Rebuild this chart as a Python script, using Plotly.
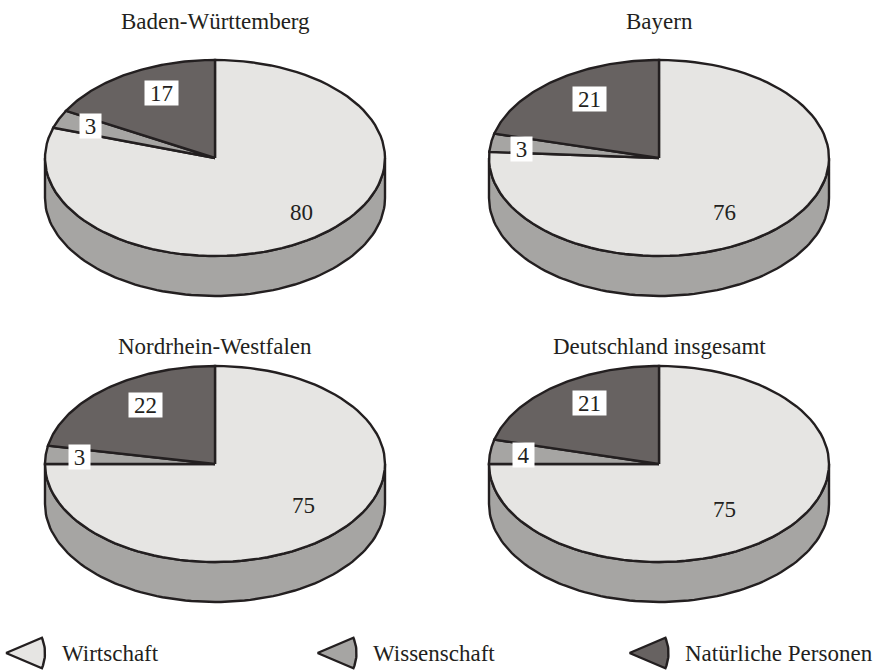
import math
import plotly.graph_objects as go

regions = ["Baden-Württemberg", "Bayern", "Nordrhein-Westfalen", "Deutschland insgesamt"]
categories = ["Wirtschaft", "Wissenschaft", "Natürliche Personen"]
wirtschaft = [80, 76, 75, 75]
wissenschaft = [3, 3, 3, 4]
natuerliche = [17, 21, 22, 21]

COLORS = {"Wirtschaft": "#e6e5e3", "Wissenschaft": "#a6a5a3", "Natürliche Personen": "#676261"}
INK = "#231f20"
FONT = "Liberation Serif"
FS = 23

# pie geometry in the page's pixel-like axis units
CENTERS = [(215, 158), (659, 158), (215, 464), (659, 464)]
RX, RY, DEPTH = 170, 98, 40
TITLE_Y = [21, 21, 346, 346]
# label offsets from pie centre: (major, minor, nat)
LABEL_OFF = [
    ((86, 54), (-124.5, -32), (-54, -65)),
    ((65, 54), (-137.5, -9), (-70, -59)),
    ((88, 41), (-135.5, -7), (-70, -59)),
    ((65, 45), (-136, -9), (-70, -61)),
]
LEGEND = [(6, 60), (317.5, 371), (629.5, 683)]
LEGEND_Y = 653
LEGEND_R, LEGEND_HALF = 39, 23

fig = go.Figure()


def arc(cx, cy, a0, a1, n=90, rx=RX, ry=RY):
    """Points on the ellipse; angle in percent of the circle, clockwise from 12 o'clock."""
    pts = []
    for i in range(n + 1):
        t = (a0 + (a1 - a0) * i / n) / 100 * 2 * math.pi
        pts.append((cx + rx * math.sin(t), cy - ry * math.cos(t)))
    return pts


def poly(pts, color, width=2.4):
    fig.add_trace(go.Scatter(
        x=[p[0] for p in pts], y=[p[1] for p in pts], mode="lines",
        fill="toself", fillcolor=color,
        line=dict(color=INK, width=width, shape="linear"),
        hoverinfo="skip", showlegend=False))


for i, region in enumerate(regions):
    cx, cy = CENTERS[i]
    w, s, n = wirtschaft[i], wissenschaft[i], natuerliche[i]
    # extruded rim
    front = arc(cx, cy, 25, 75)
    rim = front + [(x, y + DEPTH) for x, y in reversed(front)]
    rim.append(rim[0])
    poly(rim, COLORS["Wissenschaft"])
    # slices, clockwise from 12 o'clock
    start = 0
    for val, name in ((w, "Wirtschaft"), (s, "Wissenschaft"), (n, "Natürliche Personen")):
        poly([(cx, cy)] + arc(cx, cy, start, start + val) + [(cx, cy)], COLORS[name])
        start += val
    # title
    fig.add_annotation(x=cx, y=TITLE_Y[i], text=region, showarrow=False,
                       font=dict(family=FONT, size=FS, color=INK))
    # value labels
    off = LABEL_OFF[i]
    fig.add_annotation(x=cx + off[0][0], y=cy + off[0][1], text=str(w), showarrow=False,
                       font=dict(family=FONT, size=FS, color=INK))
    for val, (dx, dy) in ((s, off[1]), (n, off[2])):
        fig.add_annotation(x=cx + dx, y=cy + dy, text=str(val), showarrow=False,
                           bgcolor="white", borderpad=0,
                           width=33 if val >= 10 else 21, height=24,
                           font=dict(family=FONT, size=FS, color=INK))

# legend keys
for name, (x0, xt) in zip(categories, LEGEND):
    pts = [(x0, LEGEND_Y)]
    for k in range(21):
        a = math.radians(-LEGEND_HALF + 2 * LEGEND_HALF * k / 20)
        pts.append((x0 + LEGEND_R * math.cos(a), LEGEND_Y + LEGEND_R * math.sin(a)))
    pts.append((x0, LEGEND_Y))
    poly(pts, COLORS[name], width=2.4)
    fig.add_annotation(x=xt, y=LEGEND_Y, text=name, xanchor="left", showarrow=False,
                       font=dict(family=FONT, size=FS, color=INK))

fig.update_layout(
    width=876, height=670, autosize=False,
    margin=dict(l=0, r=0, t=0, b=0),
    paper_bgcolor="white", plot_bgcolor="white", showlegend=False,
    xaxis=dict(range=[0, 876], visible=False, fixedrange=True),
    yaxis=dict(range=[670, 0], visible=False, fixedrange=True),
)
fig.write_html("out.html", config={"displayModeBar": False},
               post_script="document.body.style.margin='0';document.body.style.overflow='hidden';")
